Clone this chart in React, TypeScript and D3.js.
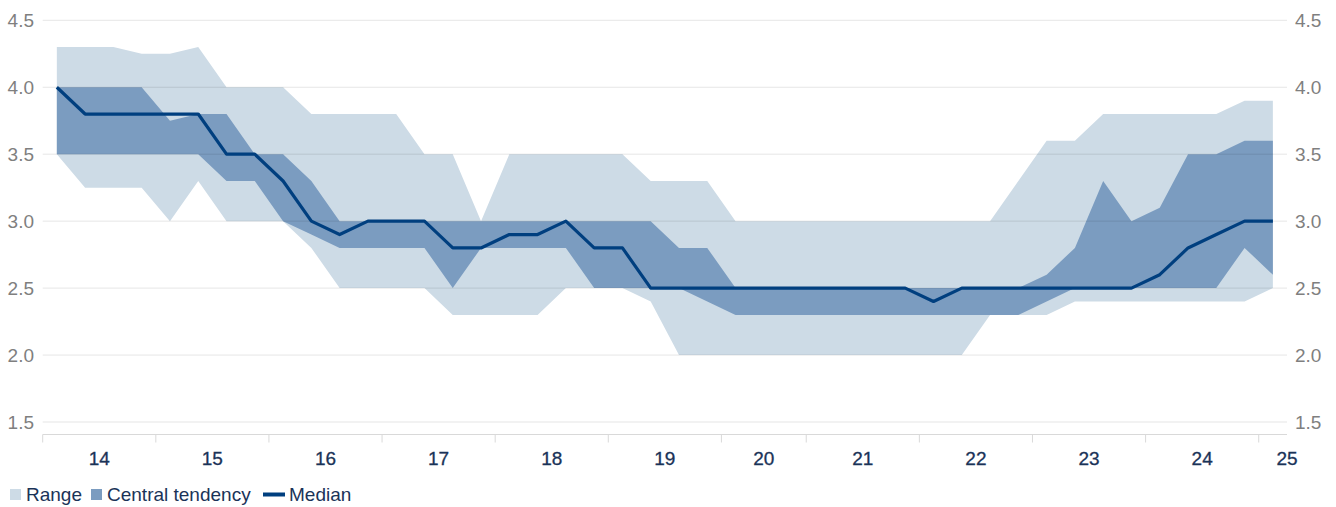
import React from "react";
import * as d3 from "d3";

// FOMC projections (longer run), one entry per SEP release
const yearLabels = ["14", "15", "16", "17", "18", "19", "20", "21", "22", "23", "24", "25"];
const releasesPerYear = [4, 4, 4, 4, 4, 4, 3, 4, 4, 4, 4, 1];

const median = [4.0, 3.8, 3.8, 3.8, 3.8, 3.8, 3.5, 3.5, 3.3, 3.0, 2.9, 3.0, 3.0, 3.0, 2.8, 2.8, 2.9, 2.9, 3.0, 2.8, 2.8, 2.5, 2.5, 2.5, 2.5, 2.5, 2.5, 2.5, 2.5, 2.5, 2.5, 2.4, 2.5, 2.5, 2.5, 2.5, 2.5, 2.5, 2.5, 2.6, 2.8, 2.9, 3.0, 3.0];
const rangeHigh = [4.3, 4.3, 4.3, 4.25, 4.25, 4.3, 4.0, 4.0, 4.0, 3.8, 3.8, 3.8, 3.8, 3.5, 3.5, 3.0, 3.5, 3.5, 3.5, 3.5, 3.5, 3.3, 3.3, 3.3, 3.0, 3.0, 3.0, 3.0, 3.0, 3.0, 3.0, 3.0, 3.0, 3.0, 3.3, 3.6, 3.6, 3.8, 3.8, 3.8, 3.8, 3.8, 3.9, 3.9];
const rangeLow = [3.5, 3.25, 3.25, 3.25, 3.0, 3.3, 3.0, 3.0, 3.0, 2.8, 2.5, 2.5, 2.5, 2.5, 2.3, 2.3, 2.3, 2.3, 2.5, 2.5, 2.5, 2.4, 2.0, 2.0, 2.0, 2.0, 2.0, 2.0, 2.0, 2.0, 2.0, 2.0, 2.0, 2.3, 2.3, 2.3, 2.4, 2.4, 2.4, 2.4, 2.4, 2.4, 2.4, 2.5];
const ctHigh = [4.0, 4.0, 4.0, 4.0, 3.75, 3.8, 3.8, 3.5, 3.5, 3.3, 3.0, 3.0, 3.0, 3.0, 3.0, 3.0, 3.0, 3.0, 3.0, 3.0, 3.0, 3.0, 2.8, 2.8, 2.5, 2.5, 2.5, 2.5, 2.5, 2.5, 2.5, 2.5, 2.5, 2.5, 2.5, 2.6, 2.8, 3.3, 3.0, 3.1, 3.5, 3.5, 3.6, 3.6];
const ctLow = [3.5, 3.5, 3.5, 3.5, 3.5, 3.5, 3.3, 3.3, 3.0, 2.9, 2.8, 2.8, 2.8, 2.8, 2.5, 2.8, 2.8, 2.8, 2.8, 2.5, 2.5, 2.5, 2.5, 2.4, 2.3, 2.3, 2.3, 2.3, 2.3, 2.3, 2.3, 2.3, 2.3, 2.3, 2.3, 2.4, 2.5, 2.5, 2.5, 2.5, 2.5, 2.5, 2.8, 2.6];
const yTicks = [1.5, 2.0, 2.5, 3.0, 3.5, 4.0, 4.5];

const W = 1336;
const H = 507;
const LEFT = 42.7;
const RIGHT = 1287;
const FONT = "'Liberation Sans', Arial, sans-serif";
const FS = 19;
const C_RANGE = "#cddbe6";
const C_CT = "#7b9cc0";
const C_MED = "#003f7f";
const C_TEXT = "#1a3358";
const C_YLAB = "#7f7f7f";

export default function App() {
  const idx = median.map((_, i) => i);
  const x = d3.scaleBand<number>().domain(idx).range([LEFT, RIGHT]).padding(0);
  const bw = x.bandwidth();
  const cx = (i: number) => (x(i) as number) + bw / 2;
  const y = d3.scaleLinear().domain([1.5, 4.5]).range([422, 20.3]);
  const axisY = 434.5;

  const rangeArea = d3.area<number>().x((i) => cx(i)).y0((i) => y(rangeLow[i])).y1((i) => y(rangeHigh[i]));
  const ctArea = d3.area<number>().x((i) => cx(i)).y0((i) => y(ctLow[i])).y1((i) => y(ctHigh[i]));
  const medLine = d3.line<number>().x((i) => cx(i)).y((i) => y(median[i]));

  // year groups
  const groups: { start: number; count: number; label: string }[] = [];
  let s = 0;
  releasesPerYear.forEach((c, k) => {
    groups.push({ start: s, count: c, label: yearLabels[k] });
    s += c;
  });

  return (
    <svg width={W} height={H} style={{ position: "absolute", left: 0, top: 0, background: "#fff" }} fontFamily={FONT}>
      <path d={rangeArea(idx) || ""} fill={C_RANGE} />
      <path d={ctArea(idx) || ""} fill={C_CT} />
      {yTicks.map((t) => (
        <line key={"g" + t} x1={LEFT} x2={RIGHT} y1={y(t)} y2={y(t)} stroke="#000" strokeOpacity={0.1} strokeWidth={1} />
      ))}
      <path d={medLine(idx) || ""} fill="none" stroke={C_MED} strokeWidth={3.2} strokeLinejoin="round" />
      {yTicks.map((t) => (
        <g key={"l" + t}>
          <text x={34} y={y(t)} dy="0.35em" textAnchor="end" fontSize={FS} fill={C_YLAB}>
            {t.toFixed(1)}
          </text>
          <text x={1295} y={y(t)} dy="0.35em" textAnchor="start" fontSize={FS} fill={C_YLAB}>
            {t.toFixed(1)}
          </text>
        </g>
      ))}
      <line x1={LEFT} x2={RIGHT} y1={axisY} y2={axisY} stroke="#d9d9d9" strokeWidth={1} />
      {groups.map((g) => {
        const gx = x(g.start) as number;
        const lx = gx + (Math.max(g.count, 2) * bw) / 2;
        return (
          <g key={"x" + g.label}>
            <line x1={gx} x2={gx} y1={axisY} y2={axisY + 8} stroke="#d9d9d9" strokeWidth={1} />
            <text x={lx} y={465} textAnchor="middle" fontSize={FS} fill={C_TEXT} stroke={C_TEXT} strokeWidth={0.3}>
              {g.label}
            </text>
          </g>
        );
      })}
      {/* legend */}
      <rect x={10} y={489} width={11} height={11} fill={C_RANGE} />
      <text x={26} y={500.5} fontSize={FS} fill={C_TEXT}>Range</text>
      <rect x={91} y={489} width={11} height={11} fill={C_CT} />
      <text x={107} y={500.5} fontSize={FS} fill={C_TEXT}>Central tendency</text>
      <line x1={263} x2={285} y1={494.5} y2={494.5} stroke={C_MED} strokeWidth={4} />
      <text x={289} y={500.5} fontSize={FS} fill={C_TEXT}>Median</text>
    </svg>
  );
}
